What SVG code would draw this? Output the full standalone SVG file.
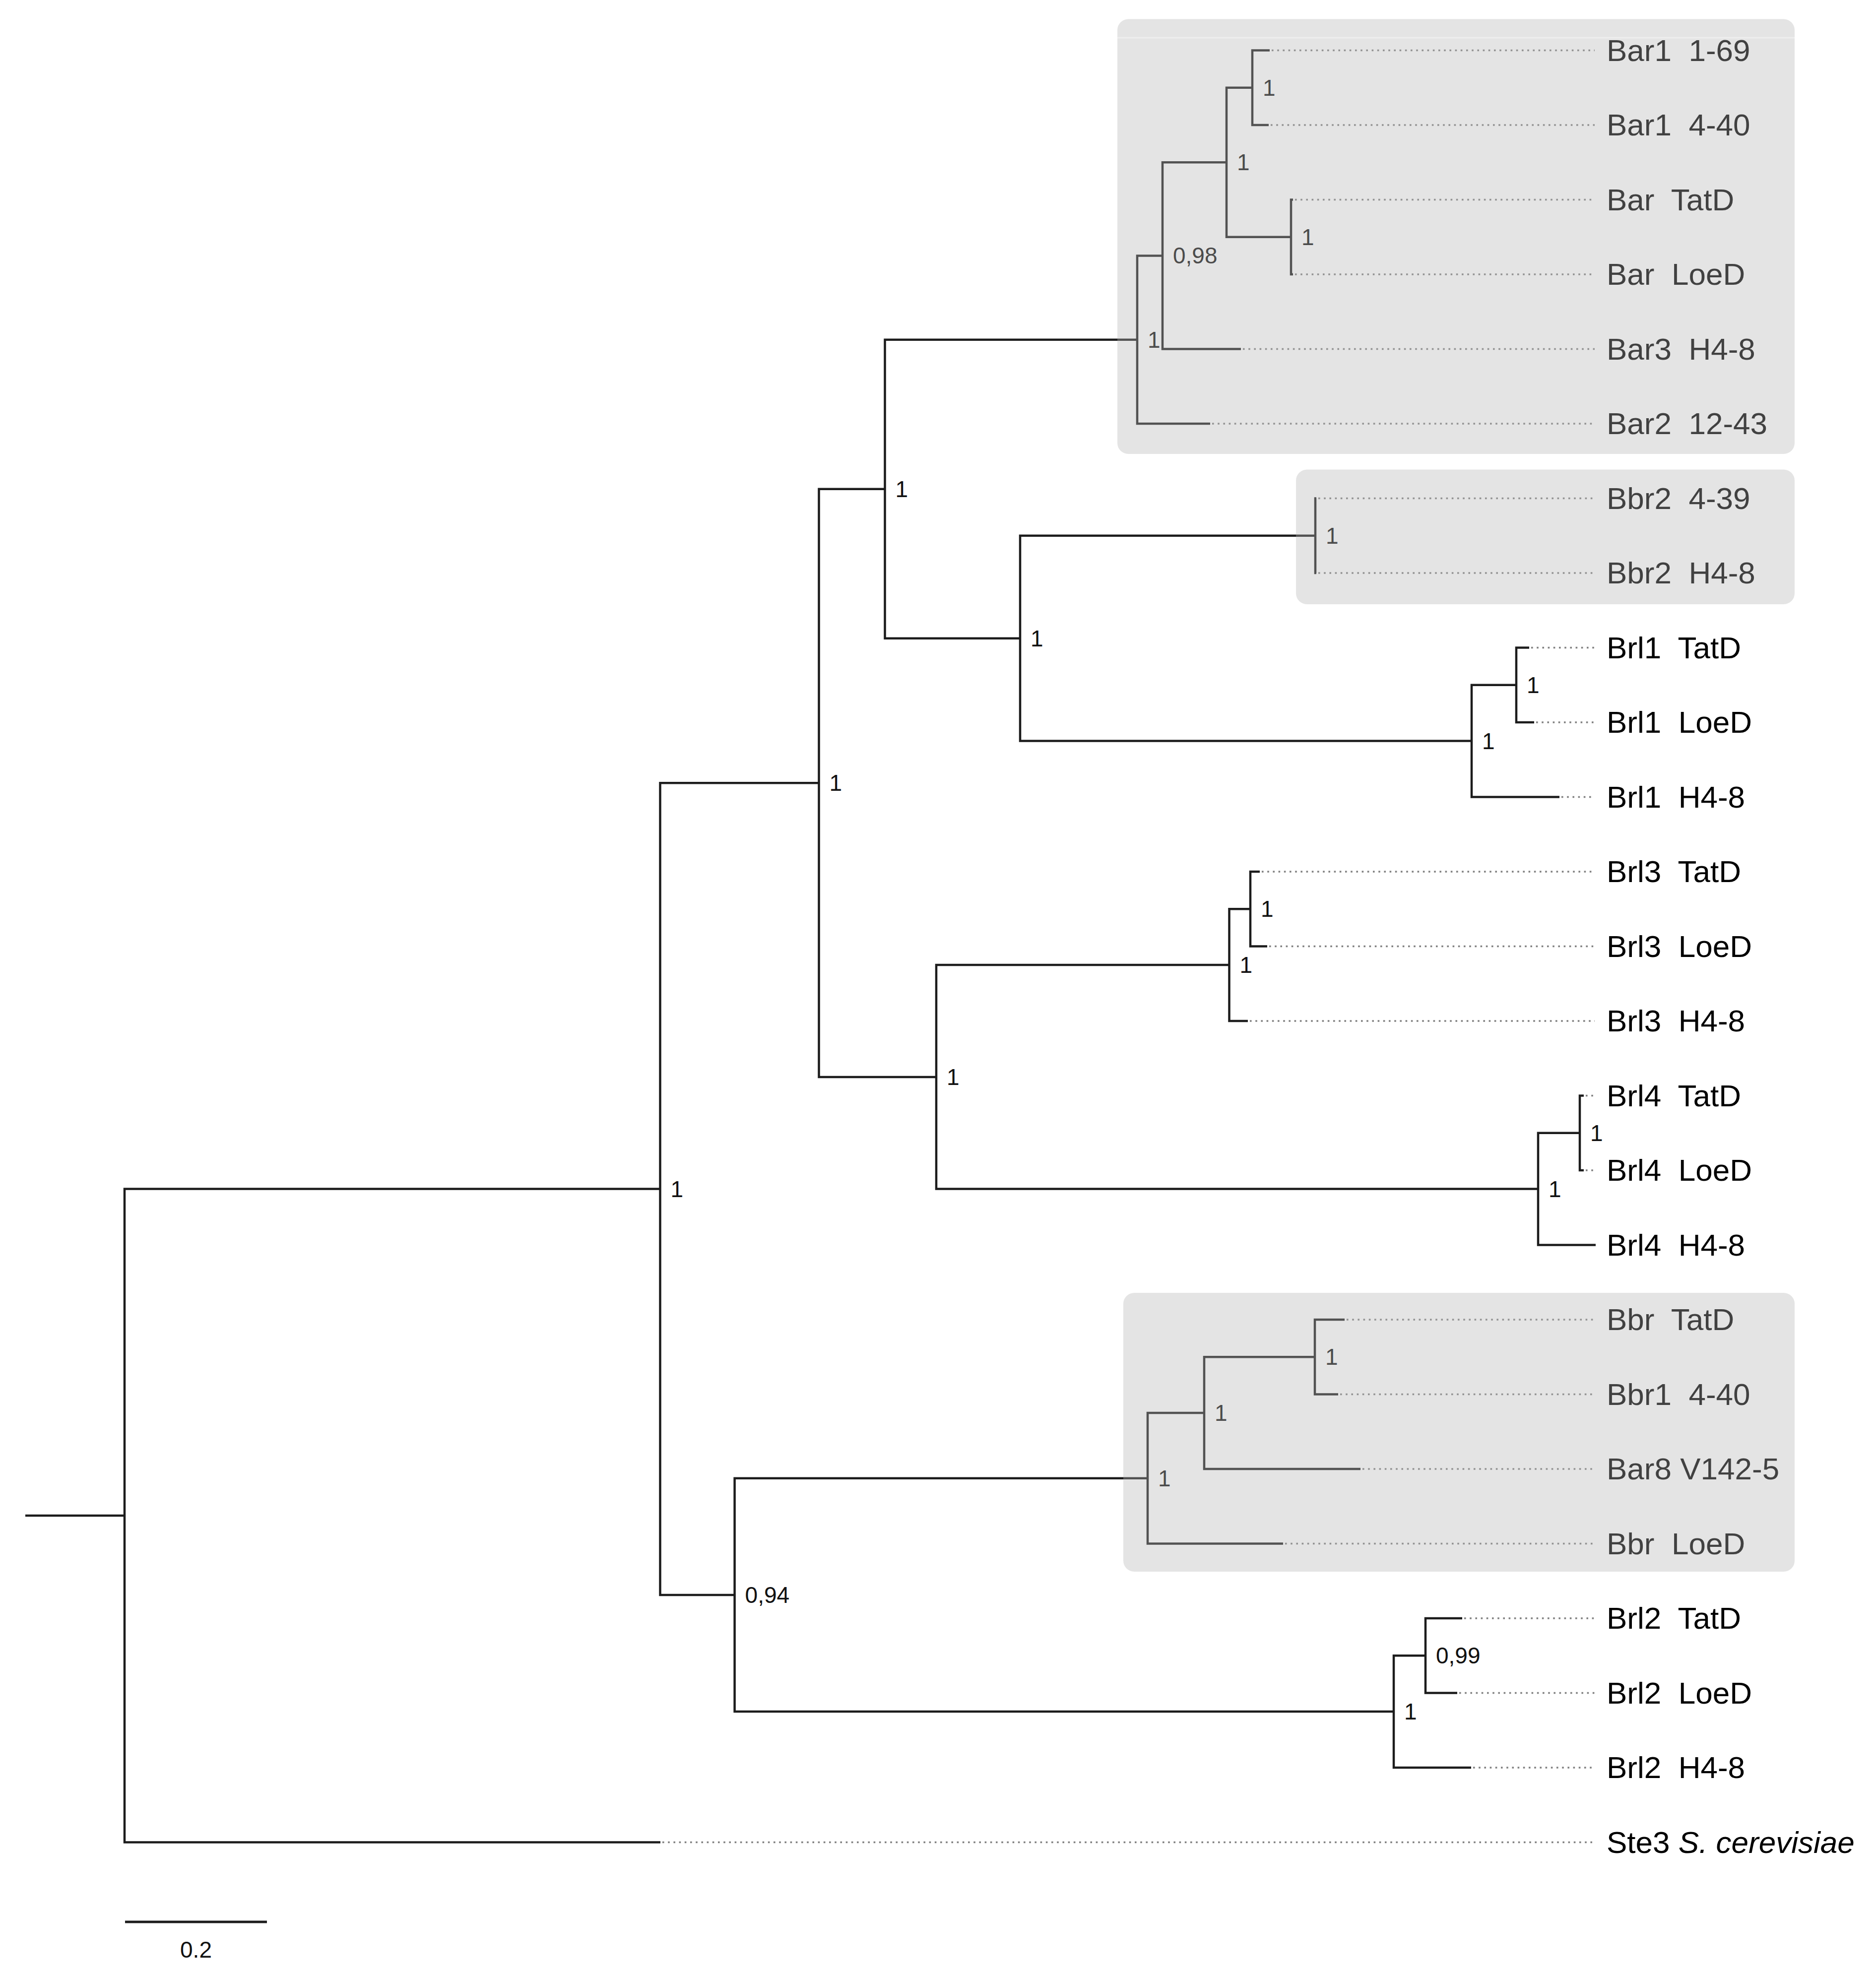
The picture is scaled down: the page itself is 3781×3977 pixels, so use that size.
<svg xmlns="http://www.w3.org/2000/svg" width="3781" height="3977" viewBox="0 0 3781 3977" xml:space="preserve">
<style>
.br{fill:none;stroke:#1c1c1c;stroke-width:4.5;stroke-linejoin:miter;stroke-linecap:butt}
.dt{fill:none;stroke:#808080;stroke-width:3.4;stroke-dasharray:3.6 7.6}
.lf{font-family:"Liberation Sans",Arial,sans-serif;font-size:62px;fill:#000;white-space:pre}
.sp{font-family:"Liberation Sans",Arial,sans-serif;font-size:46px;fill:#111}
.box{fill:#b4b4b4;fill-opacity:0.36}
</style>
<rect width="3781" height="3977" fill="#fff"/>

<g id="connectors">
<path class="br" d="M51,3055 H251"/>
<path class="br" d="M251,3055 V2396.6 H1330.5 M251,3055 V3713.5 H1331"/>
<path class="br" d="M1330.5,2396.6 V1578.3 H1650.5 M1330.5,2396.6 V3215 H1480.6"/>
<path class="br" d="M1650.5,1578.3 V985.7 H1783.5 M1650.5,1578.3 V2170.9 H1887"/>
<path class="br" d="M1783.5,985.7 V684.7 H2292 M1783.5,985.7 V1286.7 H2056"/>
<path class="br" d="M2292,684.7 V515.4 H2343 M2292,684.7 V854 H2439"/>
<path class="br" d="M2343,515.4 V327.25 H2472 M2343,515.4 V703.5 H2501"/>
<path class="br" d="M2472,327.25 V176.75 H2524 M2472,327.25 V477.75 H2602"/>
<path class="br" d="M2524,176.75 V101.5 H2559 M2524,176.75 V252 H2557"/>
<path class="br" d="M2602,477.75 V402.5 H2606 M2602,477.75 V553 H2606"/>
<path class="br" d="M2056,1286.7 V1079.75 H2651 M2056,1286.7 V1493.6 H2966"/>
<path class="br" d="M2651,1079.75 V1004.5 H2653 M2651,1079.75 V1155 H2653"/>
<path class="br" d="M2966,1493.6 V1380.75 H3056 M2966,1493.6 V1606.5 H3143"/>
<path class="br" d="M3056,1380.75 V1305.5 H3082 M3056,1380.75 V1456 H3092"/>
<path class="br" d="M1887,2170.9 V1945.1 H2477.5 M1887,2170.9 V2396.6 H3100"/>
<path class="br" d="M2477.5,1945.1 V1832.25 H2520 M2477.5,1945.1 V2058 H2515"/>
<path class="br" d="M2520,1832.25 V1757 H2539 M2520,1832.25 V1907.5 H2554"/>
<path class="br" d="M3100,2396.6 V2283.75 H3184 M3100,2396.6 V2509.5 H3216"/>
<path class="br" d="M3184,2283.75 V2208.5 H3192 M3184,2283.75 V2359 H3192"/>
<path class="br" d="M1480.6,3215 V2979.8 H2313 M1480.6,3215 V3450.1 H2809"/>
<path class="br" d="M2313,2979.8 V2848.1 H2427 M2313,2979.8 V3111.5 H2586"/>
<path class="br" d="M2427,2848.1 V2735.25 H2650 M2427,2848.1 V2961 H2742"/>
<path class="br" d="M2650,2735.25 V2660 H2710 M2650,2735.25 V2810.5 H2697"/>
<path class="br" d="M2809,3450.1 V3337.25 H2873 M2809,3450.1 V3563 H2965"/>
<path class="br" d="M2873,3337.25 V3262 H2947 M2873,3337.25 V3412.5 H2937"/>
<path class="dt" d="M2563,101.5 H3214 M2561,252 H3214 M2610,402.5 H3214 M2610,553 H3214 M2505,703.5 H3214 M2443,854 H3214 M2657,1004.5 H3214 M2657,1155 H3214 M3086,1305.5 H3214 M3096,1456 H3214 M3147,1606.5 H3214 M2543,1757 H3214 M2558,1907.5 H3214 M2519,2058 H3214 M3196,2208.5 H3214 M3196,2359 H3214 M2714,2660 H3214 M2701,2810.5 H3214 M2746,2961 H3214 M2590,3111.5 H3214 M2951,3262 H3214 M2941,3412.5 H3214 M2969,3563 H3214 M1335,3713.5 H3214"/>
</g>

<g id="leaf-Bar1-1-69"><text class="lf" x="3238" y="122.5">Bar1  1-69</text></g>
<g id="leaf-Bar1-4-40"><text class="lf" x="3238" y="273">Bar1  4-40</text></g>
<g id="leaf-Bar-TatD"><text class="lf" x="3238" y="423.5">Bar  TatD</text></g>
<g id="leaf-Bar-LoeD"><text class="lf" x="3238" y="574">Bar  LoeD</text></g>
<g id="leaf-Bar3-H4-8"><text class="lf" x="3238" y="724.5">Bar3  H4-8</text></g>
<g id="leaf-Bar2-12-43"><text class="lf" x="3238" y="875">Bar2  12-43</text></g>
<g id="leaf-Bbr2-4-39"><text class="lf" x="3238" y="1025.5">Bbr2  4-39</text></g>
<g id="leaf-Bbr2-H4-8"><text class="lf" x="3238" y="1176">Bbr2  H4-8</text></g>
<g id="leaf-Brl1-TatD"><text class="lf" x="3238" y="1326.5">Brl1  TatD</text></g>
<g id="leaf-Brl1-LoeD"><text class="lf" x="3238" y="1477">Brl1  LoeD</text></g>
<g id="leaf-Brl1-H4-8"><text class="lf" x="3238" y="1627.5">Brl1  H4-8</text></g>
<g id="leaf-Brl3-TatD"><text class="lf" x="3238" y="1778">Brl3  TatD</text></g>
<g id="leaf-Brl3-LoeD"><text class="lf" x="3238" y="1928.5">Brl3  LoeD</text></g>
<g id="leaf-Brl3-H4-8"><text class="lf" x="3238" y="2079">Brl3  H4-8</text></g>
<g id="leaf-Brl4-TatD"><text class="lf" x="3238" y="2229.5">Brl4  TatD</text></g>
<g id="leaf-Brl4-LoeD"><text class="lf" x="3238" y="2380">Brl4  LoeD</text></g>
<g id="leaf-Brl4-H4-8"><text class="lf" x="3238" y="2530.5">Brl4  H4-8</text></g>
<g id="leaf-Bbr-TatD"><text class="lf" x="3238" y="2681">Bbr  TatD</text></g>
<g id="leaf-Bbr1-4-40"><text class="lf" x="3238" y="2831.5">Bbr1  4-40</text></g>
<g id="leaf-Bar8-V142-5"><text class="lf" x="3238" y="2982">Bar8 V142-5</text></g>
<g id="leaf-Bbr-LoeD"><text class="lf" x="3238" y="3132.5">Bbr  LoeD</text></g>
<g id="leaf-Brl2-TatD"><text class="lf" x="3238" y="3283">Brl2  TatD</text></g>
<g id="leaf-Brl2-LoeD"><text class="lf" x="3238" y="3433.5">Brl2  LoeD</text></g>
<g id="leaf-Brl2-H4-8"><text class="lf" x="3238" y="3584">Brl2  H4-8</text></g>
<g id="leaf-Ste3"><text class="lf" x="3238" y="3734.5">Ste3 <tspan font-style="italic">S. cerevisiae</tspan></text></g>

<g id="node-supports">
<text class="sp" x="1351.5" y="2412.6">1</text>
<text class="sp" x="1671.5" y="1594.3">1</text>
<text class="sp" x="1804.5" y="1001.7">1</text>
<text class="sp" x="2313" y="700.7">1</text>
<text class="sp" x="2364" y="531.4">0,98</text>
<text class="sp" x="2493" y="343.25">1</text>
<text class="sp" x="2545" y="192.75">1</text>
<text class="sp" x="2623" y="493.75">1</text>
<text class="sp" x="2077" y="1302.7">1</text>
<text class="sp" x="2672" y="1095.75">1</text>
<text class="sp" x="2987" y="1509.6">1</text>
<text class="sp" x="3077" y="1396.75">1</text>
<text class="sp" x="1908" y="2186.9">1</text>
<text class="sp" x="2498.5" y="1961.1">1</text>
<text class="sp" x="2541" y="1848.25">1</text>
<text class="sp" x="3121" y="2412.6">1</text>
<text class="sp" x="3205" y="2299.75">1</text>
<text class="sp" x="1501.6" y="3231">0,94</text>
<text class="sp" x="2334" y="2995.8">1</text>
<text class="sp" x="2448" y="2864.1">1</text>
<text class="sp" x="2671" y="2751.25">1</text>
<text class="sp" x="2830" y="3466.1">1</text>
<text class="sp" x="2894" y="3353.25">0,99</text>
</g>

<g id="clade-boxes">
<rect class="box" x="2252" y="38.5" width="1365" height="876.5" rx="22"/>
<rect class="box" x="2612" y="946.5" width="1005" height="271.5" rx="22"/>
<rect class="box" x="2264" y="2606" width="1353" height="562" rx="22"/>
<line x1="2252" y1="76" x2="3617" y2="76" stroke="#eeeeee" stroke-width="3"/>
</g>

<g id="scale-bar">
<line x1="252" y1="3874" x2="538" y2="3874" stroke="#1c1c1c" stroke-width="5"/>
<text class="sp" x="395" y="3946" text-anchor="middle">0.2</text>
</g>
</svg>
